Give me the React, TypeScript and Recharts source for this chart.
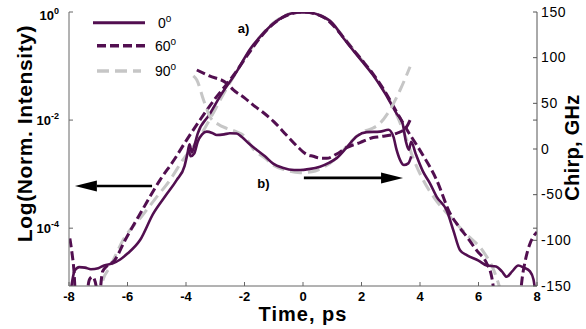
import React from 'react';
import { LineChart, Line, XAxis, YAxis, Legend, ReferenceLine, ReferenceDot } from 'recharts';

// ---- axes ----
const timeTicks = [-8, -6, -4, -2, 0, 2, 4, 6, 8];
const logTicks = [0, -2, -4];
const chirpTicks = [-150, -100, -50, 0, 50, 100, 150];
const LOG_MIN = -5.07;
const CHIRP_MIN = -150;
const CHIRP_MAX = 150;

// ---- intensity, log10(normalized) vs time (ps) ----
const intensity0: [number, number | null][] = [
  [-7.97, -5.3], [-7.88, -4.95], [-7.8, -4.78], [-7.65, -4.72], [-7.45, -4.73], [-7.25, -4.76],
  [-7.0, -4.74], [-6.8, -4.69], [-6.5, -4.65], [-6.25, -4.58], [-6.0, -4.47], [-5.57, -4.22],
  [-5.12, -3.73], [-4.7, -3.4], [-4.32, -3.11], [-4.05, -2.85], [-3.95, -2.62], [-3.88, -2.45],
  [-3.8, -2.6], [-3.72, -2.48], [-3.6, -2.25], [-3.2, -1.9], [-2.8, -1.53], [-2.31, -1.14],
  [-1.8, -0.68], [-1.4, -0.42], [-1.0, -0.21], [-0.6, -0.07], [-0.2, -0.01], [0.2, -0.01],
  [0.6, -0.07], [1.0, -0.2], [1.38, -0.48], [1.7, -0.7], [2.0, -0.9], [2.4, -1.17], [2.8, -1.5],
  [3.2, -1.88], [3.4, -2.05], [3.52, -2.4], [3.62, -2.55], [3.7, -2.4], [3.85, -2.62], [4.1, -2.95],
  [4.34, -3.17], [4.57, -3.42], [4.91, -3.67], [5.14, -4.04], [5.37, -4.41], [5.6, -4.5],
  [6.0, -4.6], [6.28, -4.69], [6.6, -4.71], [6.8, -4.8], [6.96, -4.9], [7.15, -4.8], [7.36, -4.69],
  [7.55, -4.73], [7.76, -4.8], [7.88, -4.95], [7.97, -5.3],
];
const intensity60: [number, number | null][] = [
  [-7.97, -4.19], [-7.9, -4.45], [-7.83, -4.8], [-7.78, -5.3], [-7.6, null], [-7.4, -5.3],
  [-7.3, -4.95], [-7.2, -4.9], [-7.1, -5.0], [-7.02, -5.3], [-7.0, null], [-6.95, -5.3],
  [-6.85, -4.8], [-6.7, -4.7], [-6.45, -4.6], [-6.08, -4.22], [-5.5, -3.67], [-4.89, -3.11],
  [-4.4, -2.73], [-3.98, -2.37], [-3.5, -1.98], [-3.0, -1.6], [-2.6, -1.33], [-2.31, -1.12],
  [-1.9, -0.8], [-1.5, -0.5], [-1.1, -0.26], [-0.7, -0.1], [-0.3, -0.02], [0.0, 0], [0.4, -0.03],
  [0.8, -0.13], [1.2, -0.35], [1.6, -0.62], [2.0, -0.88], [2.4, -1.15], [2.8, -1.47], [3.2, -1.85],
  [3.6, -2.22], [4.0, -2.56], [4.57, -3.11], [5.03, -3.73], [5.3, -3.95], [5.6, -4.16],
  [5.95, -4.42], [6.28, -4.65], [6.45, -4.9], [6.56, -5.3], [6.8, null], [7.42, -5.3], [7.5, -4.9],
  [7.6, -4.6], [7.75, -4.3], [7.87, -4.16], [8.0, -4.07],
];
const intensity90: [number, number | null][] = [
  [-6.95, -5.3], [-6.85, -4.98], [-6.6, -4.72], [-6.15, -4.22], [-5.5, -3.77], [-5.0, -3.42],
  [-4.55, -3.11], [-4.1, -2.73], [-3.6, -2.37], [-3.1, -1.9], [-2.7, -1.5], [-2.31, -1.14],
  [-1.9, -0.78], [-1.5, -0.48], [-1.1, -0.24], [-0.7, -0.09], [-0.3, -0.01], [0.1, 0],
  [0.5, -0.04], [0.9, -0.16], [1.3, -0.4], [1.7, -0.68], [2.1, -0.95], [2.5, -1.24], [2.9, -1.58],
  [3.2, -1.9], [3.5, -2.3], [3.8, -2.75], [4.1, -3.1], [4.5, -3.45], [5.03, -3.79], [5.6, -4.12],
  [6.16, -4.43], [6.5, -4.75], [6.84, -5.3],
];

// ---- chirp, GHz vs time (ps) ----
const chirp0: [number, number][] = [
  [-3.9, -1], [-3.84, -8], [-3.72, -5], [-3.6, 8], [-3.45, 16], [-3.29, 19], [-3.1, 17.5],
  [-2.95, 15.3], [-2.7, 16], [-2.5, 17.2], [-2.27, 17], [-2.1, 13.5], [-1.85, 6], [-1.58, -1],
  [-1.3, -8], [-1.02, -16], [-0.7, -20.5], [-0.3, -23], [-0.1, -23], [0.2, -22], [0.58, -19.4],
  [0.9, -15], [1.15, -10], [1.5, 2], [1.84, 14], [2.18, 18.5], [2.63, 19], [2.92, 21],
  [3.09, 13.5], [3.2, -1], [3.35, -14], [3.45, -17.5], [3.6, -15.7], [3.7, -8],
];
const chirp60: [number, number][] = [
  [-3.63, 86.5], [-3.2, 80], [-2.61, 72], [-2.39, 65], [-2.0, 56], [-1.7, 48], [-1.36, 40],
  [-1.0, 30], [-0.56, 15], [-0.2, 3], [0.13, -6], [0.35, -8], [0.58, -10], [0.81, -10.2],
  [1.15, -5.5], [1.49, 1.5], [1.95, 7], [2.4, 12.5], [2.63, 13.5], [3.2, 17.2], [3.45, 21],
  [3.55, 24.6], [3.66, 31.7],
];
const chirp90: [number, number][] = [
  [-3.75, 80], [-3.63, 75.5], [-3.4, 53.6], [-3.18, 35.4], [-2.9, 27], [-2.61, 22.7],
  [-2.27, 18.9], [-2.0, 14], [-1.7, 0], [-1.3, -10], [-1.0, -18], [-0.6, -23], [-0.1, -26],
  [0.3, -25], [0.7, -20], [1.1, -11], [1.5, 3], [1.84, 14], [2.06, 18.9], [2.4, 23], [2.63, 28.1],
  [2.97, 42.7], [3.32, 64.6], [3.66, 90.1],
];

// ---- legend ----
const legendLabels = ['0', '60', '90'];

const PURPLE = '#520f50';
const GRAY = '#c6c6c6';
const FONT = 'Arial, "Liberation Sans", Helvetica, sans-serif';

const styles = [
  { color: PURPLE, width: 2.6, dash: undefined as string | undefined },
  { color: PURPLE, width: 3, dash: '9 4' },
  { color: GRAY, width: 3, dash: '12 6' },
];

const rows = (pts: [number, number | null][]) => pts.map(([t, v]) => ({ t, v }));

// ticks of the log axis mirrored on the right side (in chirp units)
const mirroredLogTicks = [-2, -4].map((d) => CHIRP_MAX + ((CHIRP_MAX - CHIRP_MIN) * d) / -LOG_MIN);

const LeftTick = (props: any) => {
  const { x, y, payload } = props;
  const dy = payload.value === 0 ? 8 : 5;
  return (
    <text x={x} y={y + dy} textAnchor="end" fontSize={13} fontWeight="bold" fill="#000" fontFamily={FONT}>
      10
      <tspan dy={-6} fontSize={9}>{String(payload.value)}</tspan>
    </text>
  );
};

const RightTick = (props: any) => {
  const { x, y, payload } = props;
  if (!chirpTicks.includes(payload.value)) return <g />;
  return (
    <text x={x} y={y + 4.5} textAnchor="start" fontSize={14} letterSpacing={0.6} fill="#000" fontFamily={FONT}>
      {String(payload.value)}
    </text>
  );
};

const LegendBox = () => (
  <svg width={200} height={90} style={{ display: 'block' }}>
    {legendLabels.map((lab, i) => {
      const y = [22.7, 45.7, 71][i];
      const s = styles[i];
      return (
        <g key={lab}>
          <line x1={i === 0 ? 93 : 97} x2={i === 2 ? 141 : 145} y1={y} y2={y} stroke={s.color}
            strokeWidth={s.width + 0.4} strokeDasharray={s.dash} />
          <text x={i === 0 ? 158 : 155} y={y + 5} fontSize={14} fill="#000" fontFamily={FONT}>
            {lab}
            <tspan dy={-6} fontSize={10}>o</tspan>
          </text>
        </g>
      );
    })}
  </svg>
);

const arrowHead = (dir: number) => (p: any) => {
  const { cx, cy } = p;
  return (
    <polygon
      points={`${cx},${cy} ${cx - dir * 22},${cy - 5.5} ${cx - dir * 22},${cy + 5.5}`}
      fill="#000"
    />
  );
};

const tagText = (label: string) => (p: any) => (
  <text x={p.cx} y={p.cy} textAnchor="middle" dominantBaseline="central" fontSize={13}
    fontWeight="bold" fill="#000" fontFamily={FONT}>
    {label}
  </text>
);

export default function App() {
  return (
    <div style={{ position: 'absolute', left: 0, top: 0 }}>
      <LineChart width={586} height={329} margin={{ top: 12, right: 0, bottom: 0, left: 0 }}
        style={{ fontFamily: FONT }}>
        <XAxis type="number" dataKey="t" domain={[-8, 8]} ticks={timeTicks} allowDataOverflow
          height={43} stroke="#666" tickSize={-4} tickMargin={10}
          tick={{ fill: '#000', fontSize: 13, fontWeight: 'bold' }}
          label={{
            content: (p: any) => (
              <text x={p.viewBox.x + p.viewBox.width / 2} y={p.viewBox.y + 35} textAnchor="middle"
                fontSize={20} fontWeight="bold" letterSpacing={1} fill="#000" fontFamily={FONT}>
                Time, ps
              </text>
            ),
          }}
        />
        <YAxis yAxisId="left" type="number" domain={[LOG_MIN, 0]} ticks={logTicks} allowDataOverflow
          width={69} stroke="#666" tickSize={-4} tickMargin={14} tick={<LeftTick />}
          label={{
            content: () => (
              <text transform="translate(32,133.5) rotate(-90)" textAnchor="middle" fontSize={21}
                fontWeight="bold" letterSpacing={0.6} fill="#000" fontFamily={FONT}>
                Log(Norm. Intensity)
              </text>
            ),
          }}
        />
        <YAxis yAxisId="right" orientation="right" type="number" domain={[CHIRP_MIN, CHIRP_MAX]}
          ticks={[...chirpTicks, ...mirroredLogTicks]} allowDataOverflow interval={0}
          width={49} stroke="#555" tickSize={-4} tickMargin={8} tick={<RightTick />}
          label={{
            content: () => (
              <text transform="translate(579,147.5) rotate(-90)" textAnchor="middle" fontSize={20}
                fontWeight="bold" letterSpacing={0.3} fill="#000" fontFamily={FONT}>
                Chirp, GHz
              </text>
            ),
          }}
        />
        <Legend layout="horizontal" verticalAlign="middle" align="center"
          wrapperStyle={{ position: 'absolute', top: 0, left: 0, width: 200, height: 90 }}
          content={() => <LegendBox />} />

        {/* intensity curves (a) */}
        <Line yAxisId="left" data={rows(intensity90)} dataKey="v" stroke={styles[2].color}
          strokeWidth={styles[2].width} strokeDasharray={styles[2].dash} dot={false} activeDot={false}
          isAnimationActive={false} type="monotone" />
        <Line yAxisId="left" data={rows(intensity0)} dataKey="v" stroke={styles[0].color}
          strokeWidth={styles[0].width} dot={false} activeDot={false} isAnimationActive={false} type="monotone" />
        <Line yAxisId="left" data={rows(intensity60)} dataKey="v" stroke={styles[1].color}
          strokeWidth={styles[1].width} strokeDasharray={styles[1].dash} dot={false} activeDot={false}
          isAnimationActive={false} type="monotone" />

        {/* chirp curves (b) */}
        <Line yAxisId="right" data={rows(chirp90)} dataKey="v" stroke={styles[2].color}
          strokeWidth={styles[2].width} strokeDasharray={styles[2].dash} dot={false} activeDot={false}
          isAnimationActive={false} type="monotone" />
        <Line yAxisId="right" data={rows(chirp0)} dataKey="v" stroke={styles[0].color}
          strokeWidth={styles[0].width} dot={false} activeDot={false} isAnimationActive={false} type="monotone" />
        <Line yAxisId="right" data={rows(chirp60)} dataKey="v" stroke={styles[1].color}
          strokeWidth={styles[1].width} strokeDasharray={styles[1].dash} dot={false} activeDot={false}
          isAnimationActive={false} type="monotone" />

        {/* arrows and tags */}
        <ReferenceLine yAxisId="left" segment={[{ x: -5.16, y: -3.22 }, { x: -7.05, y: -3.22 }]}
          stroke="#000" strokeWidth={2.6} />
        <ReferenceDot yAxisId="left" x={-7.8} y={-3.22} r={0} shape={arrowHead(-1)} />
        <ReferenceLine yAxisId="left" segment={[{ x: 0.03, y: -3.07 }, { x: 2.7, y: -3.07 }]}
          stroke="#000" strokeWidth={2.6} />
        <ReferenceDot yAxisId="left" x={3.42} y={-3.07} r={0} shape={arrowHead(1)} />
        <ReferenceDot yAxisId="left" x={-2.03} y={-0.3} r={0} shape={tagText('a)')} />
        <ReferenceDot yAxisId="left" x={-1.35} y={-3.17} r={0} shape={tagText('b)')} />
      </LineChart>
    </div>
  );
}
